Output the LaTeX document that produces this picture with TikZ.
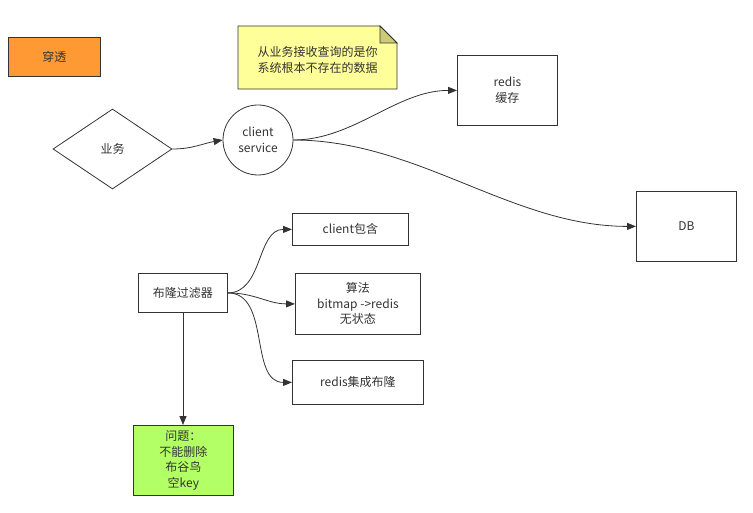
\documentclass[tikz,border=0pt]{standalone}
\usepackage{fontspec}
\setmainfont{Noto Sans CJK SC}
\usetikzlibrary{shapes.geometric,arrows.meta}
\definecolor{ln}{HTML}{333333}
\definecolor{txt}{HTML}{333333}
\definecolor{orangefill}{HTML}{FF9933}
\definecolor{notefill}{HTML}{FFFF99}
\definecolor{foldfill}{HTML}{CCCC77}
\definecolor{greenfill}{HTML}{B3FF66}
\begin{document}
\begin{tikzpicture}[x=1pt,y=-1pt,
  every node/.style={font=\fontsize{12}{15.5}\selectfont, text=txt, align=center, inner sep=0pt},
  box/.style={draw=ln, line width=0.8pt, rectangle, anchor=north west},
  conn/.style={draw=ln, line width=0.8pt, -{Triangle[length=9pt,width=7pt]}}
]
\useasboundingbox (0,0) rectangle (753,513);
% 穿透
\node[box, fill=orangefill, minimum width=92pt, minimum height=39pt] (ct) at (8,37) {穿透};
% note
\path[draw=ln, line width=0.8pt, fill=notefill] (238,26) -- (380,26) -- (397,43) -- (397,89) -- (238,89) -- cycle;
\path[draw=ln, line width=0.8pt, fill=foldfill] (380,26) -- (380,43) -- (397,43) -- cycle;
\node (note) at (317.5,60) {从业务接收查询的是你\\系统根本不存在的数据};
% diamond
\node[diamond, draw=ln, line width=0.8pt, aspect=1.49, minimum width=119pt, minimum height=80pt] (yw) at (112.5,149) {业务};
% circle
\node[circle, draw=ln, line width=0.8pt, minimum size=70pt] (cs) at (258,140) {client\\service};
% redis cache
\node[box, minimum width=100pt, minimum height=70pt] (rc) at (457,55) {};
\node at (rc.center) {redis\\缓存};
% DB
\node[box, minimum width=100pt, minimum height=70pt] (db) at (636,191) {DB};
% bloom
\node[box, minimum width=89pt, minimum height=39pt] (bl) at (138,273) {布隆过滤器};
\node[box, minimum width=116pt, minimum height=32pt] (cb) at (292,213) {client包含};
\node[box, minimum width=125pt, minimum height=61pt] (sf) at (295,273) {};
\node at (sf.center) {算法\\bitmap ->redis\\无状态};
\node[box, minimum width=131pt, minimum height=44pt] (rj) at (292,360) {redis集成布隆};
\node[box, fill=greenfill, minimum width=100pt, minimum height=70pt] (wt) at (133,425) {};
\node at (wt.center) {问题：\\不能删除\\布谷鸟\\空key};
% connectors
\draw[conn] (yw.east) to[out=0,in=190] (cs.west);
\draw[conn] (cs.east) to[out=0,in=180,looseness=0.9] (rc.west);
\draw[conn] (cs.east) to[out=0,in=180,looseness=0.9] (db.west);
\draw[conn] (bl.east) to[out=0,in=180] (cb.west);
\draw[conn] (bl.east) to[out=0,in=180] (sf.west);
\draw[conn] (bl.east) to[out=0,in=180] (rj.west);
\coordinate (blb) at (183,312);
\coordinate (wtt) at (183,425);
\draw[conn] (blb) -- (wtt);
\end{tikzpicture}
\end{document}
